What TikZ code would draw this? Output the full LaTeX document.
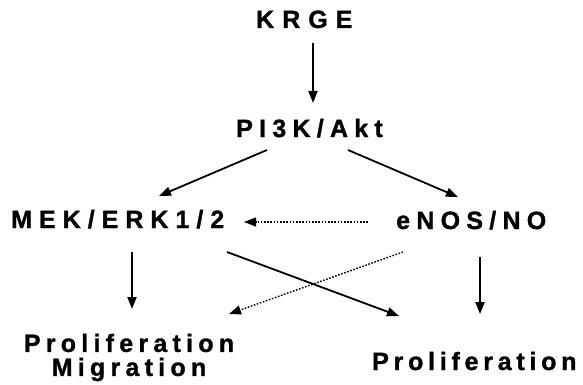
\documentclass[tikz,border=0pt]{standalone}
\usepackage{fontspec}
\setmainfont{Liberation Sans}[BoldFeatures={FakeBold=1.2}]
\usetikzlibrary{arrows.meta}
\newcommand{\ls}[1]{\addfontfeatures{LetterSpace=#1}}
\tikzset{
  lab/.style={inner sep=0pt, anchor=base west, font=\fontsize{25}{24}\selectfont\bfseries},
  con/.style={line width=1.8pt, -{Triangle[length=12pt,width=9pt]}},
  dcon/.style={line width=1.4pt, dash pattern=on 1.6pt off 1.6pt, -{Triangle[length=12pt,width=9pt]}},
}
\begin{document}
\begin{tikzpicture}[x=1pt,y=-1pt]
\useasboundingbox (0,0) rectangle (583,385);
\node[lab] (krge) at (256,28) {\ls{32}KRGE};
\node[lab] (pi3k) at (236,137) {\ls{25}PI3K/Akt};
\node[lab] (mek) at (11,228) {\ls{28}MEK/ERK1/2};
\node[lab] (enos) at (396,229) {\ls{25}eNOS/NO};
\node[lab, anchor=center, align=center] (prolmig) at (129,357.5) {\ls{21}Proliferation\\\ls{21}Migration};
\node[lab] (prol) at (372,370) {\ls{19}Proliferation};
% connector end points
\coordinate (a1) at (313,43);  \coordinate (a2) at (313,103);
\coordinate (b1) at (267,150); \coordinate (b2) at (159,196);
\coordinate (c1) at (348,150); \coordinate (c2) at (458,197);
\coordinate (d1) at (368,222); \coordinate (d2) at (244,222);
\coordinate (e1) at (132,252); \coordinate (e2) at (132,309);
\coordinate (f1) at (227,252); \coordinate (f2) at (399,316);
\coordinate (g1) at (403,252); \coordinate (g2) at (229,314);
\coordinate (h1) at (480,257); \coordinate (h2) at (480,314);
\draw[con] (a1) -- (a2);
\draw[con] (b1) -- (b2);
\draw[con] (c1) -- (c2);
\draw[dcon] (d1) -- (d2);
\draw[con] (e1) -- (e2);
\draw[con] (f1) -- (f2);
\draw[dcon] (g1) -- (g2);
\draw[con] (h1) -- (h2);
\end{tikzpicture}
\end{document}
